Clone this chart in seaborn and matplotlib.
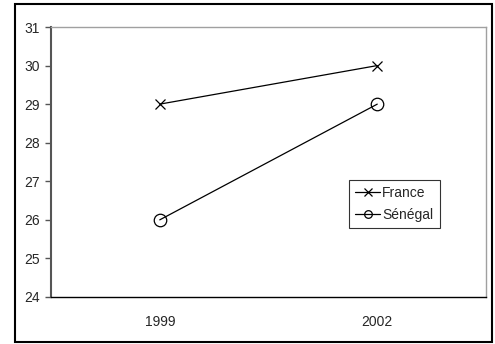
import matplotlib
matplotlib.use("Agg")
import matplotlib.pyplot as plt
from matplotlib.patches import Rectangle
from matplotlib.lines import Line2D
import seaborn as sns
import pandas as pd

years = ["1999", "2002"]
france = [29, 30]
senegal = [26, 29]
series_names = ["France", "Sénégal"]
y_ticks = [24, 25, 26, 27, 28, 29, 30, 31]

df = pd.DataFrame({
    "Année": years * 2,
    "Valeur": france + senegal,
    "Pays": [series_names[0]] * len(years) + [series_names[1]] * len(years),
})

sns.set_style("white")
plt.rcParams["font.family"] = ["Liberation Sans", "DejaVu Sans"]

FS = 10
W, H = 495, 344
fig = plt.figure(figsize=(W / 100, H / 100), dpi=100)
ax = fig.add_axes([51 / W, 1 - 297 / H, (486 - 51) / W, (297 - 27) / H])

marker_for = {"France": ("x", 7), "Sénégal": ("o", 9)}
for name in series_names:
    mk, ms = marker_for[name]
    sns.lineplot(data=df[df["Pays"] == name], x="Année", y="Valeur",
                 color="black", marker=mk, markersize=ms, linewidth=0.9,
                 markerfacecolor="none", markeredgecolor="black",
                 markeredgewidth=0.9, sort=False, legend=False, ax=ax)

ax.set_xlim(-0.5, 1.5)
ax.set_ylim(24, 31)
ax.set_yticks(y_ticks)
ax.set_yticklabels([str(v) for v in y_ticks], fontsize=FS)
ax.set_xticks([0, 1])
ax.set_xticklabels(years, fontsize=FS)
ax.set_xticks([-0.5, 0.5, 1.5], minor=True)
ax.tick_params(axis="x", which="major", length=0, pad=13)
ax.tick_params(axis="x", which="minor", length=4, width=1, color="#555555", direction="out")
ax.tick_params(axis="y", which="major", length=4, width=1, color="#555555", direction="out", pad=4, left=True)
ax.set_xlabel("")
ax.set_ylabel("")

for side in ["top", "right"]:
    ax.spines[side].set_visible(True)
    ax.spines[side].set_color("#a0a0a0")
    ax.spines[side].set_linewidth(1)
ax.spines["left"].set_color("#555555")
ax.spines["left"].set_linewidth(1.5)
ax.spines["bottom"].set_color("black")
ax.spines["bottom"].set_linewidth(1)

# legend keys use smaller markers than the plotted points
handles = [Line2D([], [], color="black", linewidth=0.9, marker=marker_for[n][0],
                  markersize=5.5, markerfacecolor="none", markeredgecolor="black",
                  markeredgewidth=0.9) for n in series_names]
leg = ax.legend(handles, series_names, loc="upper left",
                bbox_to_anchor=((349 - 51) / (486 - 51), 1 - (180 - 27) / (297 - 27)),
                frameon=True, fancybox=False, fontsize=FS, handlelength=1.8,
                handletextpad=0.15, borderpad=0.45, labelspacing=0.55,
                borderaxespad=0)
leg.get_frame().set_edgecolor("black")
leg.get_frame().set_linewidth(0.8)

# outer chart frame
fig.patches.append(Rectangle((15 / W, 1 - 342 / H), (492 - 15) / W, (342 - 4) / H,
                             transform=fig.transFigure, fill=False,
                             edgecolor="black", linewidth=1.5))

fig.savefig("out.png", dpi=100)
